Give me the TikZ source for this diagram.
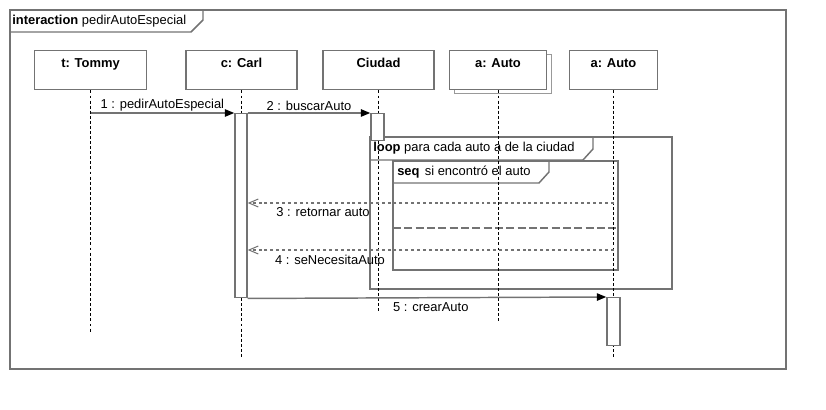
\documentclass[tikz,border=0pt]{standalone}
\usepackage{fontspec}
\setmainfont{Liberation Sans}
\usetikzlibrary{arrows.meta,positioning,calc,shadows}

\begin{document}
\begin{tikzpicture}[
    x=0.75pt, y=-0.75pt,
    font=\fontsize{9.7}{11}\selectfont,
    frame/.style = {draw=black!55, line width=1.1pt},
    obj/.style = {rectangle, draw=black!55, line width=1.1pt, fill=white, anchor=north, inner ysep=4pt, text height=8.6pt, text depth=12.65pt, font=\fontsize{9.7}{11}\selectfont\bfseries},
    life/.style = {black, line width=0.6pt, dash pattern=on 2.2pt off 1.6pt},
    act/.style = {rectangle, draw=black!55, line width=1.1pt, fill=white, anchor=north, minimum width=9.75pt, inner sep=0pt},
    call/.style = {draw=black!55, line width=1.1pt, -{Triangle[length=7pt, width=5.5pt, color=black]}},
    ret/.style = {draw=black!55, line width=1.1pt, dash pattern=on 2.2pt off 2.2pt, -{Straight Barb[length=7pt, width=6pt, line width=0.75pt]}},
    msg/.style = {inner sep=1pt}
]
    \useasboundingbox (0,0) rectangle (826,410);
    % Frames
    \draw[frame] (10,10) rectangle (786,369);
    \draw[frame] (10,32) -- (191,32) -- (203,20) -- (203,10);
    \node[anchor=west, inner sep=0pt] (title) at (12,21) {\textbf{interaction} pedirAutoEspecial};
    \draw[frame] (370,137) rectangle (672,289);
    \draw[frame] (370,160) -- (583,160) -- (593,149) -- (593,137);
    \node[anchor=west, inner sep=0pt] (loopTxt) at (373,148.5) {\textbf{loop} para cada auto a de la ciudad};
    \draw[frame] (393,161) rectangle (618,270);
    \draw[frame] (393,183) -- (539,183) -- (549,172) -- (549,161);
    \node[anchor=west, inner sep=0pt] (seqTxt) at (397,172) {\textbf{seq}\hspace{4pt}si encontró el auto};
    \draw[frame, dash pattern=on 6pt off 2.5pt] (393,228) -- (618,228);
    % Lifelines
    \node[obj, minimum width=84pt] (tommy) at (90.5,50) {t: Tommy};
    \node[obj, minimum width=83.25pt] (carl) at (241.5,50) {c: Carl};
    \node[obj, minimum width=83.25pt] (ciudad) at (378.5,50) {Ciudad};
    \node[obj, minimum width=72.75pt, copy shadow={shadow xshift=3.75pt, shadow yshift=-3pt, draw=black!40}] (autos) at (498,50) {a: Auto};
    \node[obj, minimum width=66pt] (auto) at (613.5,50) {a: Auto};
    \coordinate (tommyEnd) at (90.5,332);
    \coordinate (carlEnd) at (241.5,357);
    \coordinate (ciudadEnd) at (378.5,313);
    \coordinate (autosEnd) at (498,321);
    \coordinate (autoEnd) at (613.5,357);
    \draw[life] (tommy) -- (tommyEnd);
    \draw[life] (carl) -- (carlEnd);
    \draw[life] (ciudad) -- (ciudadEnd);
    \draw[life] (autos) -- (autosEnd);
    \draw[life] (auto) -- (autoEnd);
    % Activations
    \node[act, minimum width=9pt, minimum height=138pt] (carlAct) at (241,113) {};
    \node[act, minimum height=20.25pt] (ciudadAct) at (377.5,113) {};
    \node[act, minimum height=36pt] (autoAct) at (613.5,297) {};
    % Messages
    \draw[call] (tommy.south |- carlAct.north west) -- (carlAct.north west) node[msg, midway, above] {1 : pedirAutoEspecial};
    \draw[call] (carlAct.north east) -- (ciudadAct.north west) node[msg, midway, above] {2 : buscarAuto};
    \coordinate (r3) at (613.5,203);
    \coordinate (r4) at (613.5,250);
    \draw[ret] (r3) -- (r3 -| carlAct.east) node[msg, pos=1, anchor=north west, xshift=20pt, yshift=-2pt] {3 : retornar auto};
    \draw[ret] (r4) -- (r4 -| carlAct.east) node[msg, pos=1, anchor=north west, xshift=19pt, yshift=-2pt] {4 : seNecesitaAuto};
    \draw[call] (carlAct.south east) -- (autoAct.north west) node[msg, pos=0.4, anchor=north west, yshift=-2pt] {5 : crearAuto};
\end{tikzpicture}
\end{document}
